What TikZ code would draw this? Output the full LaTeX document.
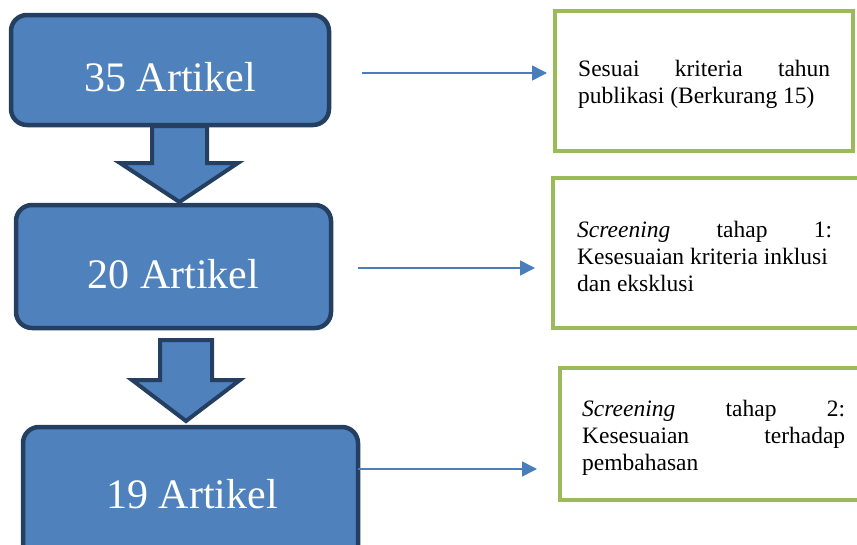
\documentclass[tikz,border=0pt]{standalone}
\usepackage{fontspec}
\setmainfont{Liberation Serif}
\usetikzlibrary{arrows.meta,calc}
\definecolor{bfill}{HTML}{4F81BD}
\definecolor{bline}{HTML}{243F60}
\definecolor{gline}{HTML}{9BBB59}
\definecolor{connc}{HTML}{4A7EBB}
\begin{document}
\begin{tikzpicture}[x=1pt,y=-1pt,
  bluebox/.style={draw=bline, line width=4.5pt, fill=bfill, rounded corners=16pt, inner sep=0pt},
  bigtext/.style={text=white, font=\fontsize{42}{50}\selectfont, inner sep=0pt, anchor=base},
  greenbox/.style={draw=gline, line width=4pt, inner sep=0pt},
  sidetext/.style={anchor=west, inner sep=0pt, font=\fontsize{23.5}{27}\selectfont},
  blockarrow/.style={draw=bline, line width=4pt, fill=bfill, line join=miter},
  conn/.style={draw=connc, line width=1.6pt, -{Triangle[length=15pt,width=15pt]}}]
\useasboundingbox (0,0) rectangle (857,544);
\clip (0,0) rectangle (857,544);

% block arrows
\draw[blockarrow] (152,126) -- (207,126) -- (207,163) -- (238,163) -- (179.5,202) -- (120,163) -- (152,163) -- cycle;
\draw[blockarrow] (160,340) -- (212,340) -- (212,380) -- (240,380) -- (186,421) -- (132,380) -- (160,380) -- cycle;

% blue boxes
\node[bluebox, minimum width=318pt, minimum height=110pt] (b1) at (170,70) {};
\node[bluebox, minimum width=315pt, minimum height=123pt] (b2) at (173.5,266.5) {};
\node[bluebox, minimum width=335pt, minimum height=140pt] (b3) at (190.5,497) {};
\node[bigtext] (t1) at (170,91) {35 Artikel};
\node[bigtext] (t2) at (173.5,288) {20 Artikel};
\node[bigtext] (t3) at (192,508) {19 Artikel};

% green boxes
\node[greenbox, minimum width=298pt, minimum height=140pt] (r1) at (704,81) {};
\node[greenbox, minimum width=322pt, minimum height=150pt] (r2) at (714,253) {};
\node[greenbox, minimum width=320pt, minimum height=132pt] (r3) at (720,434) {};

\node[sidetext] (s1) at (578,84) {\parbox{252pt}{\makebox[252pt]{Sesuai\hfill kriteria\hfill tahun}\\publikasi (Berkurang 15)}};
\node[sidetext] (s2) at (577,256) {\parbox{255pt}{\makebox[255pt]{\textit{Screening}\hfill tahap\hfill 1:}\\Kesesuaian kriteria inklusi\\dan eksklusi}};
\node[sidetext] (s3) at (582,438) {\parbox{263pt}{\makebox[263pt]{\textit{Screening}\hfill tahap\hfill 2:}\\\makebox[263pt]{Kesesuaian\hfill terhadap}\\pembahasan}};

% connectors
\coordinate (a1s) at (362,73);
\coordinate (a1e) at (547,73);
\coordinate (a2s) at (358,268);
\coordinate (a2e) at (535,268);
\coordinate (a3s) at (358,469);
\coordinate (a3e) at (537,469);
\draw[conn] (a1s) -- (a1e);
\draw[conn] (a2s) -- (a2e);
\draw[conn] (a3s) -- (a3e);
\end{tikzpicture}
\end{document}
